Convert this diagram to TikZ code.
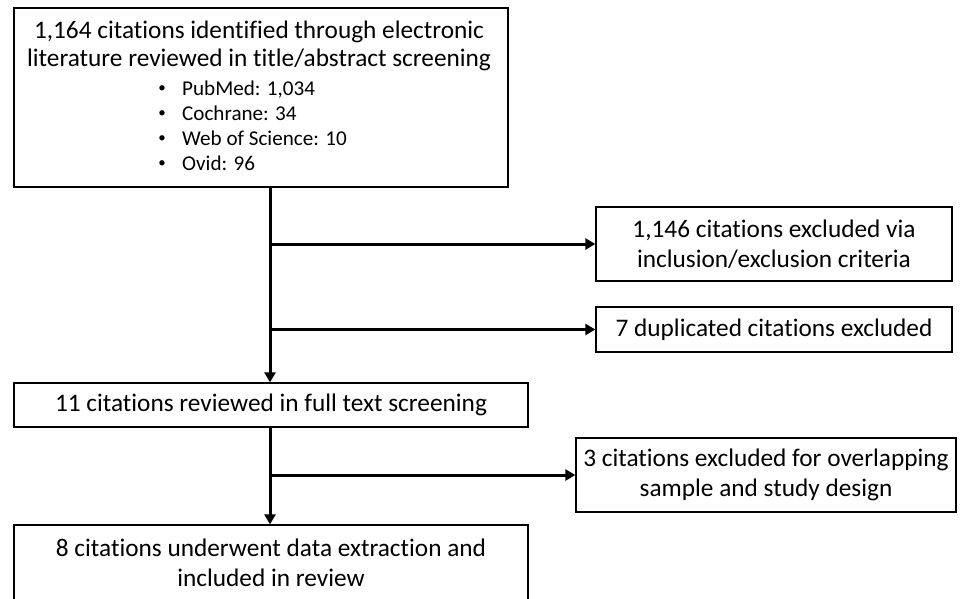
\documentclass[tikz,border=0pt]{standalone}
\usepackage{fontspec}
\setmainfont[Ligatures=NoCommon]{Carlito}
\usetikzlibrary{arrows.meta}
\tikzset{
  box/.style={draw=black, line width=1.3pt, inner sep=0pt, align=center,
    font=\fontsize{25.3}{29.5}\selectfont},
  flow/.style={line width=3pt, -{Triangle[length=10pt,width=11pt]}},
  head/.style={anchor=base, inner sep=0pt, font=\fontsize{25.3}{29}\selectfont},
  item/.style={anchor=base west, inner sep=0pt, font=\fontsize{21.1}{25}\selectfont},
  dot/.style={anchor=base, inner sep=0pt, font=\fontsize{15}{18}\selectfont},
}
\begin{document}
\begin{tikzpicture}[x=1pt,y=-1pt]
\useasboundingbox (0,0) rectangle (973,598);
% boxes
\node[box, minimum width=494pt, minimum height=179pt] (top) at (261,97.5) {};
\node[head] (h1) at (259,38) {1,164 citations identified through electronic};
\node[head] (h2) at (259,66) {literature reviewed in title/abstract screening};
\node[dot] (b1) at (162,92) {•}; \node[item] (i1) at (182,95) {PubMed: 1,034};
\node[dot] (b2) at (162,117) {•}; \node[item] (i2) at (182,120) {Cochrane: 34};
\node[dot] (b3) at (162,142) {•}; \node[item] (i3) at (182,145) {Web of Science: 10};
\node[dot] (b4) at (162,167) {•}; \node[item] (i4) at (182,170) {Ovid: 96};

\node[box, minimum width=356pt, minimum height=74pt] (ex1) at (774,244) {1,146 citations excluded via\\inclusion/exclusion criteria};
\node[box, minimum width=356pt, minimum height=45pt] (ex2) at (774,329.5) {7 duplicated citations excluded};
\node[box, minimum width=514pt, minimum height=44pt] (full) at (271,405) {11 citations reviewed in full text screening};
\node[box, minimum width=380pt, minimum height=74pt] (ex3) at (766,475) {3 citations excluded for overlapping\\sample and study design};
\node[box, minimum width=514pt, minimum height=76pt] (inc) at (271,563) {8 citations underwent data extraction and\\included in review};

% connectors
\coordinate (tx) at (270,0);
\draw[flow] (top.south -| tx) -- (full.north -| tx);
\draw[flow] (tx |- ex1.west) -- (ex1.west);
\draw[flow] (tx |- ex2.west) -- (ex2.west);
\draw[flow] (full.south -| tx) -- (inc.north -| tx);
\draw[flow] (tx |- ex3.west) -- (ex3.west);
\end{tikzpicture}
\end{document}
